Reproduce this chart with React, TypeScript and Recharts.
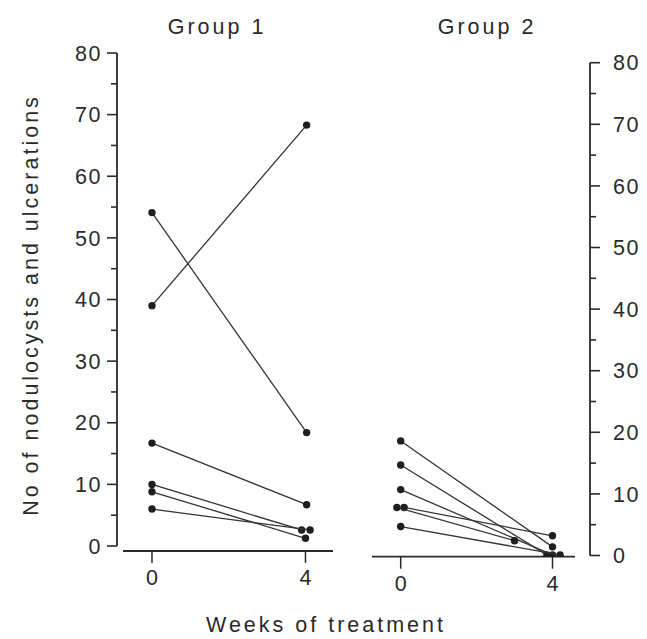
import React from 'react';
import { ScatterChart, Scatter, XAxis, YAxis, ReferenceLine } from 'recharts';

// ---------- data ----------
const weekTicks = [0, 4];
const yTicks = [0, 5, 10, 15, 20, 25, 30, 35, 40, 45, 50, 55, 60, 65, 70, 75, 80];

// Group 1: week-0 and week-4 values per patient (x positions include visible jitter)
const g1StartWeek = [0, 0, 0, 0, 0, 0];
const g1Start = [54.1, 39.0, 16.7, 10.0, 8.8, 6.0];
const g1EndWeek = [4.03, 4.03, 4.03, 3.9, 4.0, 4.12];
const g1End = [18.4, 68.3, 6.7, 2.6, 1.25, 2.6];

// Group 2
const g2StartWeek = [0, 0, 0, 0.09, -0.1, 0];
const g2Start = [18.6, 14.7, 10.7, 7.8, 7.8, 4.7];
const g2EndWeek = [4.0, 3.85, 4.0, 4.0, 3.0, 4.2];
const g2End = [1.4, 0.1, 0.1, 3.2, 2.4, 0.1];

const pairs = (sx: number[], sy: number[], ex: number[], ey: number[]) =>
  sy.map((v, i) => [
    { x: sx[i], y: v },
    { x: ex[i], y: ey[i] },
  ]);

const g1Series = pairs(g1StartWeek, g1Start, g1EndWeek, g1End);
const g2Series = pairs(g2StartWeek, g2Start, g2EndWeek, g2End);

// ---------- styling ----------
const FONT = '"Liberation Sans", Arial, Helvetica, sans-serif';
const INK = '#2a2a2a';
const W = 647;
const H = 639;

// axis domains (chosen so the plot frames line up with the reference)
const X1 = [-0.912, 4.717];
const Y1 = [-0.811, 80];
const X1LINE = [-0.755, 4.717];
const X2 = [-0.756, 4.988];
const Y2 = [-0.195, 80];
const X2LINE = [-0.756, 4.593];

const Dot = (p: any) => <circle cx={p.cx} cy={p.cy} r={3.7} fill="#1e1e1e" />;

const makeYTick = (side: 'left' | 'right') => (props: any) => {
  const { x, y, payload } = props;
  const v = payload.value as number;
  const major = v % 10 === 0;
  const len = major ? 10 : 6;
  const dir = side === 'left' ? -1 : 1;
  return (
    <g>
      <line x1={x} x2={x + dir * len} y1={y} y2={y} stroke={INK} strokeWidth={1.6} />
      {major && (
        <text
          x={side === 'left' ? x - 15 : x + 23}
          y={y}
          dy="0.36em"
          textAnchor={side === 'left' ? 'end' : 'start'}
          fontSize={21.5}
          fontFamily={FONT}
          fill={INK}
          letterSpacing={1.5}
        >
          {v}
        </text>
      )}
    </g>
  );
};

const xTickStyle = { fontSize: 21.5, fill: INK, fontFamily: FONT };

export default function App() {
  return (
    <div style={{ position: 'absolute', left: 0, top: 0, width: W, height: H, background: '#fff' }}>
      {/* Group 1 */}
      <div style={{ position: 'absolute', left: 0, top: 0 }}>
        <ScatterChart width={W} height={H} margin={{ top: 53, right: 314, bottom: 58, left: 57 }}>
          <XAxis
            type="number"
            dataKey="x"
            domain={X1}
            allowDataOverflow
            ticks={weekTicks}
            axisLine={false}
            tickSize={12}
            tickMargin={7}
            tickLine={{ stroke: INK, strokeWidth: 1.5 }}
            tick={xTickStyle}
            height={30}
          />
          <YAxis
            type="number"
            dataKey="y"
            domain={Y1}
            allowDataOverflow
            ticks={yTicks}
            interval={0}
            axisLine={false}
            tickLine={false}
            tickSize={0}
            tickMargin={0}
            tick={makeYTick('left')}
            width={60}
          />
          <ReferenceLine
            ifOverflow="visible"
            segment={[{ x: X1[0], y: 0 }, { x: X1[0], y: 80 }]}
            stroke={INK}
            strokeWidth={1.8}
          />
          <ReferenceLine
            ifOverflow="visible"
            segment={[{ x: X1LINE[0], y: Y1[0] }, { x: X1LINE[1], y: Y1[0] }]}
            stroke={INK}
            strokeWidth={1.8}
          />
          {g1Series.map((d, i) => (
            <Scatter
              key={'g1' + i}
              data={d}
              line={{ stroke: '#333', strokeWidth: 1.3 }}
              shape={Dot}
              isAnimationActive={false}
            />
          ))}
        </ScatterChart>
      </div>

      {/* Group 2 */}
      <div style={{ position: 'absolute', left: 0, top: 0 }}>
        <ScatterChart width={W} height={H} margin={{ top: 62.7, right: 0, bottom: 52.3, left: 372 }}>
          <XAxis
            type="number"
            dataKey="x"
            domain={X2}
            allowDataOverflow
            ticks={weekTicks}
            axisLine={false}
            tickSize={12}
            tickMargin={7}
            tickLine={{ stroke: INK, strokeWidth: 1.5 }}
            tick={xTickStyle}
            height={30}
          />
          <YAxis
            type="number"
            dataKey="y"
            orientation="right"
            domain={Y2}
            allowDataOverflow
            ticks={yTicks}
            interval={0}
            axisLine={false}
            tickLine={false}
            tickSize={0}
            tickMargin={0}
            tick={makeYTick('right')}
            width={57}
          />
          <ReferenceLine
            ifOverflow="visible"
            segment={[{ x: X2[1], y: 0 }, { x: X2[1], y: 80 }]}
            stroke={INK}
            strokeWidth={1.8}
          />
          <ReferenceLine
            ifOverflow="visible"
            segment={[{ x: X2LINE[0], y: Y2[0] }, { x: X2LINE[1], y: Y2[0] }]}
            stroke={INK}
            strokeWidth={1.8}
          />
          {g2Series.map((d, i) => (
            <Scatter
              key={'g2' + i}
              data={d}
              line={{ stroke: '#333', strokeWidth: 1.3 }}
              shape={Dot}
              isAnimationActive={false}
            />
          ))}
        </ScatterChart>
      </div>

      {/* titles */}
      <svg
        width={W}
        height={H}
        style={{ position: 'absolute', left: 0, top: 0, pointerEvents: 'none' }}
      >
        <g fontFamily={FONT} fontSize={21.5} fill={INK} letterSpacing={3}>
          <text x={217} y={34} textAnchor="middle">Group  1</text>
          <text x={487} y={34} textAnchor="middle">Group  2</text>
          <text x={326} y={632} textAnchor="middle">Weeks of treatment</text>
          <text transform="translate(38,305) rotate(-90)" textAnchor="middle">
            No of nodulocysts and ulcerations
          </text>
        </g>
      </svg>
    </div>
  );
}
